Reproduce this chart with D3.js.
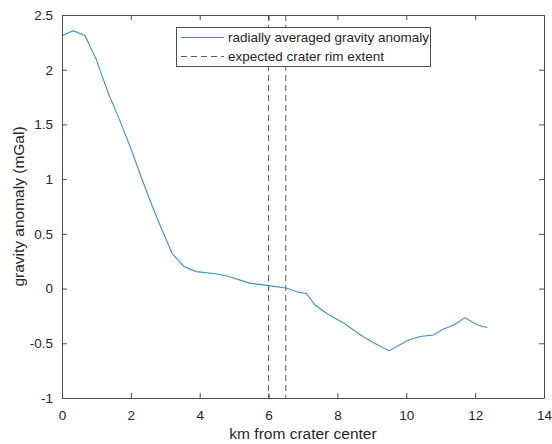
<!DOCTYPE html>
<html><head><meta charset="utf-8">
<script src="https://cdn.jsdelivr.net/npm/d3@7"></script>
<style>
body{margin:0;background:#fff;}
svg{display:block;font-family:"Liberation Sans",Arial,sans-serif;}
</style></head><body>
<svg id="c" width="552" height="444"></svg>
<script>
const distanceKm = [0, 0.33, 0.67, 1.0, 1.35, 1.65, 2.0, 2.3, 2.6, 2.9, 3.2, 3.55, 3.9, 4.45, 4.8, 5.45, 6.05, 6.5, 6.9, 7.1, 7.35, 7.7, 8.2, 8.75, 9.25, 9.5, 9.8, 10.1, 10.45, 10.8, 11.05, 11.4, 11.7, 12.05, 12.35];
const anomaly = [2.31, 2.357, 2.31, 2.09, 1.78, 1.56, 1.28, 1.02, 0.77, 0.54, 0.32, 0.20, 0.155, 0.135, 0.115, 0.05, 0.025, 0.005, -0.035, -0.045, -0.15, -0.23, -0.32, -0.44, -0.53, -0.568, -0.515, -0.465, -0.435, -0.425, -0.375, -0.33, -0.265, -0.33, -0.355];
const rimExtent = [6, 6.5];
const xTicks = [0, 2, 4, 6, 8, 10, 12, 14];
const yTicks = [-1, -0.5, 0, 0.5, 1, 1.5, 2, 2.5];
const legendLabels = ["radially averaged gravity anomaly", "expected crater rim extent"];

const L = 62, R = 544, T = 15, B = 398;
const x = d3.scaleLinear().domain([0, 14]).range([L, R]);
const y = d3.scaleLinear().domain([-1, 2.5]).range([B, T]);
const svg = d3.select("#c");
const axisColor = "#4d4d4d", lineColor = "#3a95c6";

svg.append("rect").attr("x", L).attr("y", T).attr("width", R - L).attr("height", B - T).attr("fill", "#fff");

// data line
const line = d3.line().x((d, i) => x(distanceKm[i])).y(d => y(d));
svg.append("path").datum(anomaly).attr("d", line).attr("fill", "none")
  .attr("stroke", lineColor).attr("stroke-width", 1.1);

// rim lines
svg.selectAll(".rim").data(rimExtent).join("line")
  .attr("x1", d => x(d)).attr("x2", d => x(d)).attr("y1", T).attr("y2", B)
  .attr("stroke", "#5a5a5a").attr("stroke-width", 1).attr("stroke-dasharray", "6,4");

// axes (inward ticks, box)
const tl = 5;
const fmt = d => String(d);
const gx = svg.append("g").attr("transform", `translate(0,${B})`)
  .call(d3.axisBottom(x).tickValues(xTicks).tickSizeInner(-tl).tickSizeOuter(0).tickPadding(12).tickFormat(fmt));
const gxt = svg.append("g").attr("transform", `translate(0,${T})`)
  .call(d3.axisTop(x).tickValues(xTicks).tickSizeInner(-tl).tickSizeOuter(0).tickFormat(""));
const gy = svg.append("g").attr("transform", `translate(${L},0)`)
  .call(d3.axisLeft(y).tickValues(yTicks).tickSizeInner(-tl).tickSizeOuter(0).tickPadding(9).tickFormat(fmt));
const gyr = svg.append("g").attr("transform", `translate(${R},0)`)
  .call(d3.axisRight(y).tickValues(yTicks).tickSizeInner(-tl).tickSizeOuter(0).tickFormat(""));
[gx, gxt, gy, gyr].forEach(g => {
  g.selectAll("path.domain").attr("stroke", axisColor).attr("stroke-width", 1);
  g.selectAll(".tick line").attr("stroke", axisColor).attr("stroke-width", 1);
  g.selectAll(".tick text").attr("fill", "#262626").attr("font-size", 13.5)
    .attr("font-family", "Liberation Sans, Arial, sans-serif");
});

// axis labels
svg.append("text").attr("x", (L + R) / 2).attr("y", 439).attr("text-anchor", "middle")
  .attr("font-size", 15.5).attr("fill", "#262626").text("km from crater center");
svg.append("text").attr("transform", `translate(24,${(T + B) / 2}) rotate(-90)`)
  .attr("text-anchor", "middle").attr("font-size", 15.5).attr("fill", "#262626")
  .text("gravity anomaly (mGal)");

// legend
const lg = svg.append("g");
lg.append("rect").attr("x", 176.5).attr("y", 27.5).attr("width", 254).attr("height", 39)
  .attr("fill", "#fff").attr("stroke", axisColor).attr("stroke-width", 1);
const rows = [{stroke: lineColor, dash: null}, {stroke: "#5a5a5a", dash: "6,4"}];
legendLabels.forEach((lab, i) => {
  const yy = 37.5 + i * 19;
  lg.append("line").attr("x1", 181).attr("x2", 224).attr("y1", yy).attr("y2", yy)
    .attr("stroke", rows[i].stroke).attr("stroke-width", 1)
    .attr("stroke-dasharray", rows[i].dash);
  lg.append("text").attr("x", 228).attr("y", yy + 4.5).attr("font-size", 13.5)
    .attr("fill", "#262626").text(lab);
});
</script>
</body></html>
